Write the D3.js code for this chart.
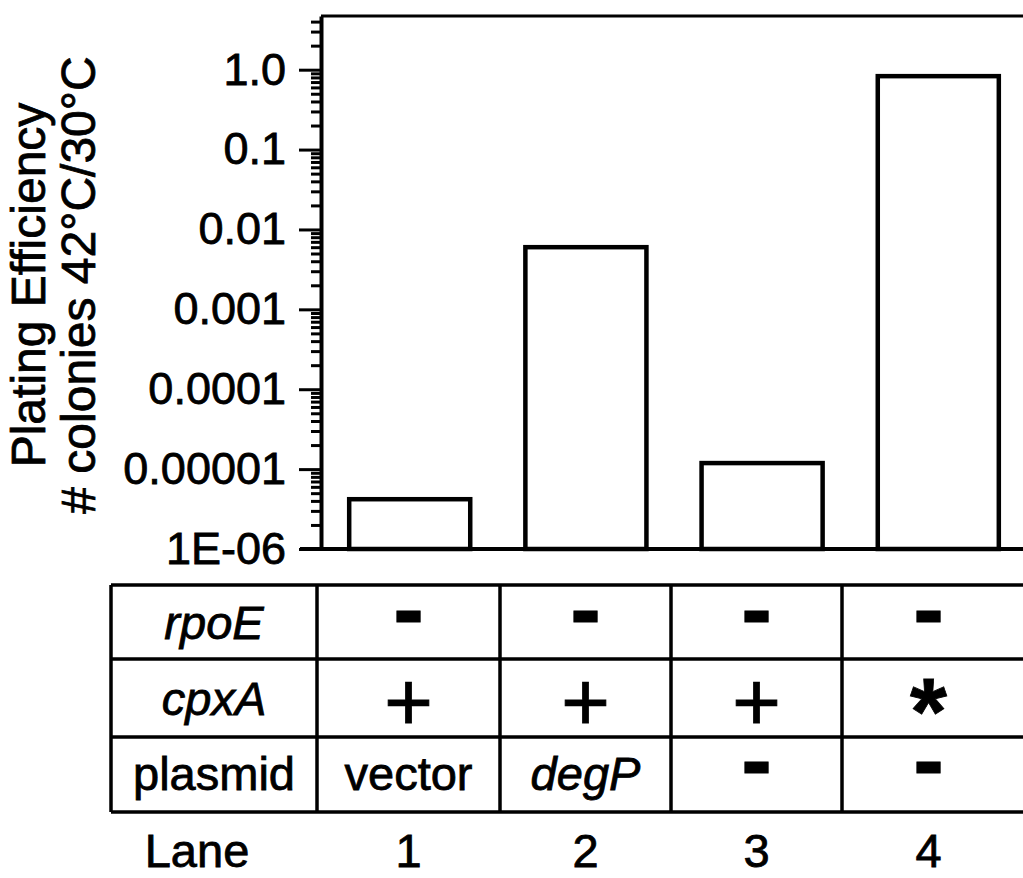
<!DOCTYPE html>
<html>
<head>
<meta charset="utf-8">
<script src="https://cdn.jsdelivr.net/npm/d3@7"></script>
<style>
  html, body { margin: 0; padding: 0; background: #fff; }
  svg { display: block; font-family: 'Liberation Sans', Arial, Helvetica, sans-serif; }
  /* scanned figure: type looks a bit heavier than regular */
  svg text { stroke: #000; stroke-width: 0.8px; }
</style>
</head>
<body>
<div id="chart"></div>
<script>
// plating efficiency per lane
const lanes = ['1', '2', '3', '4']
const efficiency = [4.2e-6, 6.0e-3, 1.19e-5, 0.83]

// genotype table under the bars
const rowLabels = ['rpoE', 'cpxA', 'plasmid']
const rpoE = ['-', '-', '-', '-']
const cpxA = ['+', '+', '+', '*']
const plasmid = ['vector', 'degP', '-', '-']
const italicWords = ['rpoE', 'cpxA', 'degP']

const majorTicks = [1, 0.1, 0.01, 0.001, 0.0001, 0.00001, 0.000001]
const tickLabels = ['1.0', '0.1', '0.01', '0.001', '0.0001', '0.00001', '1E-06']
const yTitle = ['Plating Efficiency', '# colonies 42°C/30°C']

const width = 1023
const height = 878
const plot = { left: 321, top: 16, bottom: 549, right: 1027 }

const svg = d3
  .select('#chart')
  .append('svg')
  .attr('width', width)
  .attr('height', height)

const y = d3
  .scaleLog()
  .domain([1e-6, 4.7])
  .range([plot.bottom, plot.top])

const x = d3
  .scaleBand()
  .domain(lanes)
  .range([plot.left, plot.right])
  .paddingInner(0.313)
  .paddingOuter(0.16)

// minor ticks at 2..9 of each decade
const minorTicks = []
for (let k = -6; k <= 0; k++) {
  for (let m = 2; m <= 9; m++) {
    const v = m * Math.pow(10, k)
    if (v <= y.domain()[1]) minorTicks.push(v)
  }
}

const minorAxis = svg
  .append('g')
  .attr('transform', `translate(${plot.left},0)`)
  .call(d3.axisLeft(y).tickValues(minorTicks).tickSize(10).tickSizeOuter(0).tickFormat(''))
minorAxis.select('.domain').remove()
minorAxis.selectAll('line').attr('stroke', '#000').attr('stroke-width', 3)

const majorAxis = svg
  .append('g')
  .attr('transform', `translate(${plot.left},0)`)
  .call(
    d3
      .axisLeft(y)
      .tickValues(majorTicks)
      .tickSize(22)
      .tickSizeOuter(0)
      .tickPadding(13)
      .tickFormat((d, i) => tickLabels[i]),
  )
majorAxis.select('.domain').attr('stroke', '#000').attr('stroke-width', 4)
majorAxis.selectAll('line').attr('stroke', '#000').attr('stroke-width', 3)
majorAxis
  .selectAll('text')
  .attr('font-size', 45)
  .attr('fill', '#000')
  .attr('font-family', "'Liberation Sans', Arial, sans-serif")

// top frame and base line
svg
  .append('line')
  .attr('x1', plot.left)
  .attr('x2', width + 5)
  .attr('y1', plot.top)
  .attr('y2', plot.top)
  .attr('stroke', '#000')
  .attr('stroke-width', 3)
svg
  .append('line')
  .attr('x1', plot.left - 21)
  .attr('x2', width + 5)
  .attr('y1', plot.bottom)
  .attr('y2', plot.bottom)
  .attr('stroke', '#000')
  .attr('stroke-width', 4)

// bars
svg
  .append('g')
  .selectAll('rect')
  .data(efficiency)
  .join('rect')
  .attr('x', (d, i) => x(lanes[i]))
  .attr('y', d => y(d))
  .attr('width', x.bandwidth())
  .attr('height', d => plot.bottom - y(d))
  .attr('fill', '#fff')
  .attr('stroke', '#000')
  .attr('stroke-width', 4.5)

// y title, two rotated lines
const title = svg
  .append('text')
  .attr('transform', 'translate(45,285) rotate(-90)')
  .attr('text-anchor', 'middle')
  .attr('font-size', 48)
  .attr('fill', '#000')
title
  .selectAll('tspan')
  .data(yTitle)
  .join('tspan')
  .attr('x', 0)
  .attr('dy', (d, i) => (i === 0 ? 0 : 50))
  .text(d => d)

// table
const cols = [111, 317, 500, 671, 842, 1015]
const rows = [585, 659, 737, 812]
const baselines = [639, 715, 790]
const table = svg.append('g')

rows.forEach(r => {
  table
    .append('line')
    .attr('x1', cols[0])
    .attr('x2', width + 5)
    .attr('y1', r)
    .attr('y2', r)
    .attr('stroke', '#000')
    .attr('stroke-width', 3.5)
})
cols.slice(0, -1).forEach(c => {
  table
    .append('line')
    .attr('x1', c)
    .attr('x2', c)
    .attr('y1', rows[0])
    .attr('y2', rows[rows.length - 1])
    .attr('stroke', '#000')
    .attr('stroke-width', 3.5)
})

const colCenter = i => (cols[i] + cols[i + 1]) / 2

function styleCell(sel, d) {
  sel.attr('fill', '#000').attr('text-anchor', 'middle')
  if (d === '-') {
    sel.attr('font-size', 92).attr('font-weight', 'bold').attr('dy', 2)
  } else if (d === '+') {
    sel.attr('font-size', 84).attr('dy', 15)
  } else if (d === '*') {
    sel.attr('font-size', 95).attr('font-weight', 'bold').attr('dy', 29)
  } else {
    sel.attr('font-size', 47)
    if (italicWords.includes(d)) sel.attr('font-style', 'italic')
  }
}

const tableRows = [rpoE, cpxA, plasmid]
tableRows.forEach((values, r) => {
  table
    .append('text')
    .attr('x', colCenter(0))
    .attr('y', baselines[r])
    .call(styleCell, rowLabels[r])
    .text(rowLabels[r])
  values.forEach((v, i) => {
    table
      .append('text')
      .attr('x', colCenter(i + 1))
      .attr('y', baselines[r])
      .call(styleCell, v)
      .text(v)
  })
})

// lane numbers
svg
  .append('text')
  .attr('x', 197)
  .attr('y', 867)
  .attr('text-anchor', 'middle')
  .attr('font-size', 47)
  .text('Lane')
svg
  .append('g')
  .selectAll('text')
  .data(lanes)
  .join('text')
  .attr('x', (d, i) => colCenter(i + 1))
  .attr('y', 867)
  .attr('text-anchor', 'middle')
  .attr('font-size', 47)
  .text(d => d)
</script>
</body>
</html>
